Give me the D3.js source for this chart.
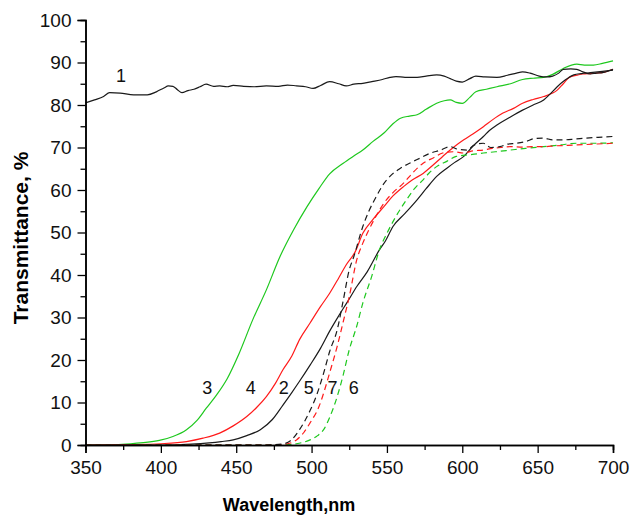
<!DOCTYPE html>
<html>
<head>
<meta charset="utf-8">
<script src="https://cdn.jsdelivr.net/npm/d3@7"></script>
<style>
  html, body { margin: 0; padding: 0; background: #fff; }
  svg { display: block; font-family: "Liberation Sans", Arial, sans-serif; }
</style>
</head>
<body>
<svg id="chart" width="632" height="519"></svg>
<script>
// curve 1 (black, top)
const wl1 = [350,356,362,366,373,382,391,397,402,405,408,411,414,418,422,426,430,435,439,444,448,455,462,470,478,484,490,496,501,506,512,518,523,528,534,540,547,552,556,562,570,576,583,588,592,596,600,605,609,615,623,630,636,640,645,651,656,660,664,667,672,676,680,685,689,693,697,700];
const t1 = [80.5,81.2,82.0,82.9,82.8,82.4,82.4,83.1,84.0,84.5,84.4,83.6,82.9,83.4,83.7,84.3,84.9,84.4,84.5,84.3,84.6,84.4,84.3,84.5,84.4,84.7,84.5,84.3,83.9,84.6,85.5,85.0,84.5,84.9,85.1,85.5,86.0,86.5,86.7,86.5,86.5,86.8,87.1,86.8,86.2,85.6,85.4,86.2,86.8,86.6,86.5,87.0,87.5,87.8,87.5,86.8,86.6,86.8,87.5,88.4,88.5,88.4,87.8,87.3,87.5,87.6,88.0,88.4];

// curve 2 (black solid)
const wl2 = [350,400,420,432,440,448,457,466,474,481,487,492,499,506,512,518,524,530,537,545,549,554,562,570,576,583,590,595,601,607,614,618,623,631,640,647,654,658,663,668,674,679,685,693,700];
const t2 = [0,0,0.2,0.5,0.8,1.2,2.2,3.6,6.0,9.4,12.4,15.0,18.8,22.8,26.8,30.4,33.8,37.3,40.8,45.9,48.0,51.4,54.5,57.7,60.3,63.2,65.2,66.5,67.9,70.3,72.6,74.0,75.3,77.0,78.8,80.0,81.2,82.5,84.3,85.8,87.1,87.4,87.6,87.9,88.2];

// curve 3 (green solid)
const wl3 = [350,370,380,390,399,408,417,424,430,437,444,452,461,470,479,488,497,505,512,521,528,534,541,548,554,559,565,570,576,583,588,592,596,600,605,609,616,623,632,640,647,654,660,667,676,681,687,693,700];
const t3 = [0,0.1,0.3,0.6,1.1,2.0,3.6,5.8,8.6,11.8,15.6,21.6,29.5,36.5,44.3,50.6,56.1,60.4,63.8,66.3,68.0,69.4,71.5,73.4,75.6,76.9,77.4,77.7,79.0,80.4,81.0,81.2,80.6,80.4,81.8,83.1,83.7,84.3,85.0,86.0,86.3,86.5,87.2,88.6,89.6,89.4,89.4,89.8,90.4];

// curve 4 (red solid)
const wl4 = [350,380,400,417,428,439,448,457,464,470,476,481,487,492,499,506,512,518,523,529,534,541,548,554,561,567,574,581,587,594,601,607,614,620,627,634,640,647,654,660,663,667,671,676,680,685,689,695,700];
const t4 = [0,0.1,0.3,0.8,1.6,2.8,4.5,6.7,9.0,11.4,14.5,17.7,21.0,24.8,28.7,32.6,35.7,39.3,42.4,45.5,49.8,53.2,56.1,58.6,60.8,62.4,63.9,66.0,67.9,70.0,71.8,73.2,74.9,76.5,78.1,79.2,80.4,81.3,82.0,82.8,83.5,85.0,86.5,87.0,87.3,87.4,87.5,87.8,88.4];

// curve 5 (black dashed)
const wl5 = [350,470,480,486,492,499,503,508,512,517,521,525,528,534,538,543,547,552,558,565,572,579,585,592,597,603,608,614,619,625,630,636,642,648,654,660,667,675,682,690,700];
const t5 = [0,0,0.2,1.0,3.6,8.1,11.4,16.9,22.0,27.1,34.0,41.2,44.3,51.4,55.0,58.5,61.0,63.2,64.9,66.3,67.5,68.7,69.3,70.2,69.6,69.4,70.6,71.0,70.0,70.2,70.8,71.0,71.4,72.1,72.2,71.8,71.8,72.0,72.2,72.4,72.6];

// curve 6 (green dashed)
const wl6 = [350,480,490,499,504,508,512,517,521,525,530,534,540,545,550,556,563,568,574,578,583,590,596,605,614,622,632,642,654,665,676,688,700];
const t6 = [0,0,0.3,1.2,2.2,3.6,6.5,11.4,16.5,22.4,28.0,33.4,39.8,45.9,49.8,53.8,57.7,60.2,62.4,64.0,65.5,66.8,67.9,68.3,68.7,69.0,69.4,69.8,70.2,70.6,71.0,71.0,71.1];

// curve 7 (red dashed)
const wl7 = [350,475,484,490,495,499,505,508,512,517,521,525,530,534,538,543,548,554,561,567,574,581,587,594,601,607,614,620,626,632,640,647,654,662,670,676,688,700];
const t7 = [0,0,0.3,1.2,3.0,5.2,9.1,12.2,17.0,23.2,29.0,34.9,43.6,47.5,50.6,54.0,56.9,59.4,61.6,64.0,66.3,67.6,68.7,69.0,68.7,69.2,69.4,69.8,70.0,70.2,70.1,70.2,70.2,70.4,70.5,70.6,70.8,71.0];

const xTicks = [350,400,450,500,550,600,650,700];
const yTicks = [0,10,20,30,40,50,60,70,80,90,100];

const series = [
  { wl: wl3, t: t3, color: '#1ec81e', dash: null },
  { wl: wl4, t: t4, color: '#ff1a1a', dash: null },
  { wl: wl2, t: t2, color: '#1a1a1a', dash: null },
  { wl: wl6, t: t6, color: '#1ec81e', dash: '6,4' },
  { wl: wl7, t: t7, color: '#ff1a1a', dash: '6,4' },
  { wl: wl5, t: t5, color: '#1a1a1a', dash: '6,4' },
  { wl: wl1, t: t1, color: '#1a1a1a', dash: null },
];

const labels = [
  { text: '1', x: 373.5, y: 85.3 },
  { text: '3', x: 430.8, y: 12 },
  { text: '4', x: 459.7, y: 12 },
  { text: '2', x: 481.6, y: 12 },
  { text: '5', x: 498.2, y: 12 },
  { text: '7', x: 513.9, y: 12 },
  { text: '6', x: 528, y: 12 },
];

const svg = d3.select('#chart');
const x = d3.scaleLinear().domain([350, 700]).range([85.5, 613]);
const y = d3.scaleLinear().domain([0, 100]).range([445, 20]);

// lines
const line = d3.line().x(d => x(d[0])).y(d => y(d[1])).curve(d3.curveMonotoneX);
series.forEach(s => {
  svg.append('path')
    .datum(s.wl.map((w, i) => [w, s.t[i]]))
    .attr('d', line)
    .attr('fill', 'none')
    .attr('stroke', s.color)
    .attr('stroke-width', 1.2)
    .attr('stroke-dasharray', s.dash);
});

// axes
const xAxis = svg.append('g').attr('transform', 'translate(0,445)')
  .call(d3.axisBottom(x).tickValues(xTicks).tickSize(8).tickPadding(8).tickFormat(d3.format('d')));
const xMinor = svg.append('g').attr('transform', 'translate(0,445)')
  .call(d3.axisBottom(x).tickValues(d3.range(375, 700, 50)).tickSize(5).tickFormat(''));
const yAxis = svg.append('g').attr('transform', 'translate(85.5,0)')
  .call(d3.axisLeft(y).tickValues(yTicks).tickSize(8).tickPadding(6).tickFormat(d3.format('d')));
const yMinor = svg.append('g').attr('transform', 'translate(85.5,0)')
  .call(d3.axisLeft(y).tickValues(d3.range(5, 100, 10)).tickSize(5).tickFormat(''));

[xAxis, xMinor, yAxis, yMinor].forEach(g => {
  g.select('.domain').attr('stroke', '#000').attr('stroke-width', 1.5);
  g.selectAll('.tick line').attr('stroke', '#000').attr('stroke-width', 1.3);
  g.selectAll('.tick text').attr('fill', '#111').style('font-size', '19px')
    .style('font-family', '"Liberation Sans", Arial, sans-serif');
});

// axis titles
svg.append('text')
  .attr('x', 289).attr('y', 511)
  .attr('text-anchor', 'middle')
  .style('font-size', '18px').style('font-weight', 'bold')
  .text('Wavelength,nm');

svg.append('text')
  .attr('transform', 'translate(28,238) rotate(-90)')
  .attr('text-anchor', 'middle')
  .style('font-size', '21px').style('font-weight', 'bold')
  .text('Transmittance, %');

// curve numbers
svg.append('g').selectAll('text').data(labels).enter().append('text')
  .attr('x', d => x(d.x)).attr('y', d => y(d.y))
  .attr('text-anchor', 'middle')
  .style('font-size', '18px').attr('fill', '#111')
  .text(d => d.text);
</script>
</body>
</html>
